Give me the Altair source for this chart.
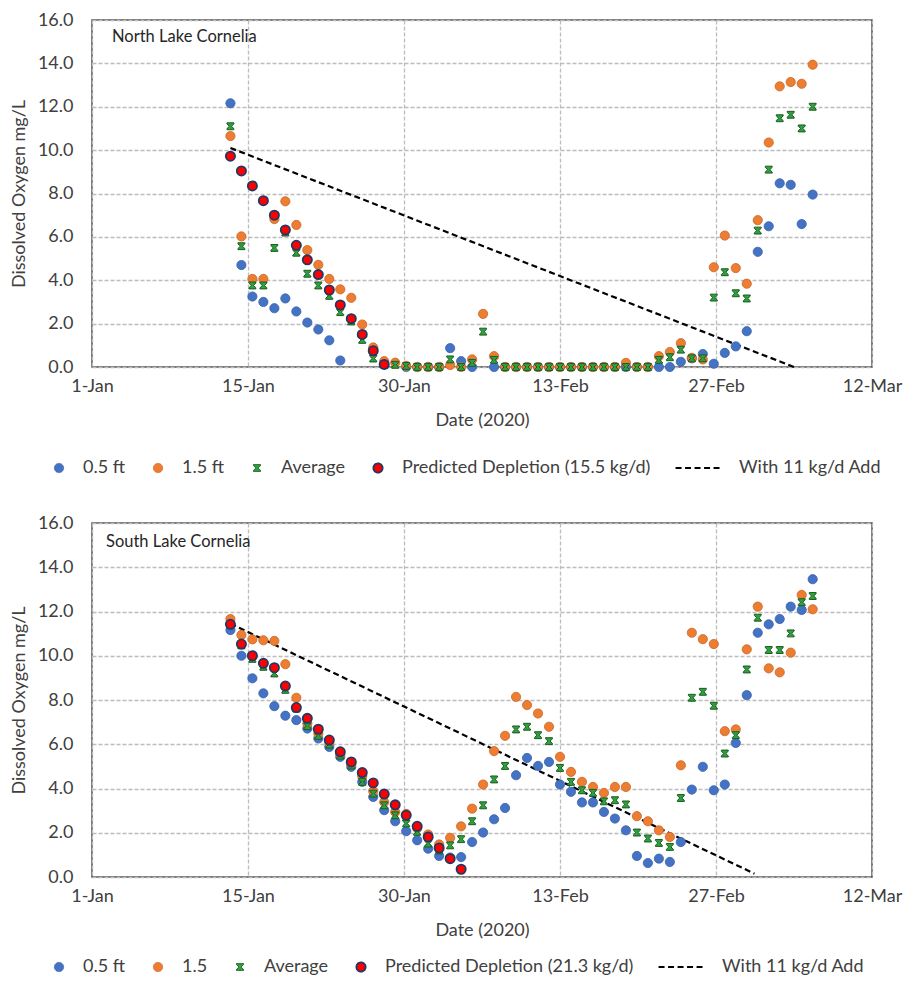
import altair as alt
import pandas as pd

# ---------------- data ----------------
FIRST_DAY = 12.6          # first daily sample, days after 1-Jan-2020
AXIS_END = 71             # 12-Mar, days after 1-Jan-2020
tick_labels = ["1-Jan", "15-Jan", "30-Jan", "13-Feb", "27-Feb", "12-Mar"]
y_ticks = [0, 2, 4, 6, 8, 10, 12, 14, 16]

north_names = ["0.5 ft", "1.5 ft", "Average", "Predicted Depletion (15.5 kg/d)", "With 11 kg/d Add"]
south_names = ["0.5 ft", "1.5", "Average", "Predicted Depletion (21.3 kg/d)", "With 11 kg/d Add"]

n_blue = [12.16, 4.70, 3.25, 3.00, 2.71, 3.16, 2.56, 2.05, 1.73, 1.23,
          0.30, None, None, None, None, None, 0.0, 0.0, 0.0, 0.0,
          0.87, 0.27, 0.0, None, 0.0, 0.0, 0.0, 0.0, 0.0, 0.0,
          0.0, 0.0, 0.0, 0.0, 0.0, 0.0, 0.0, 0.0, 0.0, 0.0,
          0.0, 0.24, 0.40, 0.60, 0.15, 0.65, 0.95, 1.65, 5.31, 6.49,
          8.47, 8.40, 6.59, 7.95]
n_orange = [10.65, 6.02, 4.06, 4.06, 6.82, 7.64, 6.55, 5.39, 4.71, 4.06,
            3.58, 3.19, 1.96, 0.90, 0.27, 0.20, 0.05, 0.0, 0.0, 0.0,
            0.09, 0.0, 0.35, 2.45, 0.50, 0.0, 0.0, 0.0, 0.0, 0.0,
            0.0, 0.0, 0.0, 0.0, 0.0, 0.0, 0.19, 0.0, 0.0, 0.50,
            0.69, 1.10, 0.42, 0.35, 4.60, 6.06, 4.56, 3.84, 6.77, 10.35,
            12.94, 13.14, 13.06, 13.94]
n_avg = [11.10, 5.57, 3.76, 3.76, 5.49, 6.20, 5.27, 4.30, 3.76, 3.28,
         2.53, 2.10, 1.25, 0.39, 0.10, 0.10, 0.05, 0.0, 0.0, 0.0,
         0.35, 0.0, 0.19, 1.63, 0.33, 0.0, 0.0, 0.0, 0.0, 0.0,
         0.0, 0.0, 0.0, 0.0, 0.0, 0.0, 0.0, 0.0, 0.0, 0.33,
         0.45, 0.80, 0.40, 0.40, 3.20, 4.37, 3.40, 3.16, 6.29, 9.10,
         11.47, 11.63, 11.00, 12.00]
n_pred = [9.72, 9.04, 8.35, 7.67, 7.00, 6.32, 5.61, 4.94, 4.26, 3.55,
          2.86, 2.23, 1.50, 0.75, 0.12]
n_add_days = [12.6, 63.9]
n_add_vals = [10.1, 0.0]

s_blue = [11.16, 10.00, 8.98, 8.30, 7.72, 7.29, 7.09, 6.71, 6.26, 5.88,
          5.43, 4.98, 4.30, 3.62, 3.02, 2.52, 2.07, 1.66, 1.28, 0.95,
          0.88, 0.90, 1.58, 2.01, 2.61, 3.12, 4.60, 5.38, 5.02, 5.20,
          4.18, 3.85, 3.37, 3.37, 2.94, 2.64, 2.11, 0.95, 0.63, 0.83,
          0.68, 1.58, 3.95, 4.98, 3.92, 4.18, 6.06, 8.22, 11.04, 11.42,
          11.66, 12.22, 12.07, 13.46]
s_orange = [11.66, 10.94, 10.74, 10.70, 10.67, 9.62, 8.10, 6.94, 6.49, 6.08,
            5.55, 5.10, 4.55, 3.88, 3.39, 2.94, 2.85, 2.20, 1.92, 1.47,
            1.77, 2.29, 3.09, 4.18, 5.69, 6.38, 8.14, 7.77, 7.39, 6.79,
            5.43, 4.75, 4.30, 4.07, 3.80, 4.07, 4.07, 2.75, 2.52, 2.11,
            1.81, 5.05, 11.04, 10.75, 10.53, 6.59, 6.67, 10.29, 12.22, 9.43,
            9.25, 10.14, 12.75, 12.10]
s_avg = [11.41, 10.47, 9.86, 9.50, 9.20, 8.46, 7.61, 6.82, 6.38, 5.98,
         5.49, 5.04, 4.30, 3.77, 3.24, 2.79, 2.42, 2.04, 1.51, 1.20,
         1.43, 1.71, 2.52, 3.24, 4.41, 5.02, 6.67, 6.79, 6.41, 6.14,
         4.93, 4.30, 3.92, 3.80, 3.42, 3.47, 3.28, 2.01, 1.74, 1.54,
         1.36, 3.57, 8.10, 8.37, 7.74, 5.58, 6.41, 9.38, 11.72, 10.26,
         10.26, 11.01, 12.42, 12.70]
s_pred = [11.42, 10.53, 10.00, 9.66, 9.46, 8.63, 7.66, 7.17, 6.68, 6.19,
          5.66, 5.20, 4.72, 4.25, 3.75, 3.26, 2.79, 2.29, 1.81, 1.31,
          0.83, 0.35]
s_add_days = [12.6, 60.3]
s_add_vals = [11.45, 0.15]

# ---------------- styling ----------------
FONT = "Lato"
TXT = "#404040"
fills = ["#4472C4", "#ED7D31", "#2F9E44", "#FF0000", "transparent"]
strokes = ["#3A62AA", "#C8662A", "#1A5E1A", "#1F3864", "#000000"]
XMARK = ("M-0.75,-0.75L0.75,-0.75L0.75,-0.5L0.22,0L0.75,0.5L0.75,0.75"
         "L-0.75,0.75L-0.75,0.5L-0.22,0L-0.75,-0.5Z")
shapes = ["circle", "circle", XMARK, "circle", "stroke"]
sizes = [85, 85, 85, 85, 2200]
widths = [0.8, 0.8, 1.0, 1.8, 2.2]
dashes = [[1, 0], [1, 0], [1, 0], [1, 0], [6, 3.5]]

n_ticks = len(tick_labels)
tick_days = [AXIS_END * k / (n_ticks - 1) for k in range(n_ticks)]
label_expr = ("[" + ",".join("'%s'" % t for t in tick_labels) + "]"
              + "[round(datum.value / %f)]" % (AXIS_END / (n_ticks - 1)))


def panel(title, names, blue, orange, avg, pred, add_days, add_vals,
          height, text_x, text_y, leg_x, leg_y):
    rows = []
    for name, vals in zip(names[:4], [blue, orange, avg, pred]):
        for i, v in enumerate(vals):
            if v is not None:
                rows.append({"day": FIRST_DAY + i, "value": v, "series": name})
    pts = pd.DataFrame(rows)
    line_df = pd.DataFrame({"day": add_days, "value": add_vals, "series": names[4]})

    leg = alt.Legend(title=None, orient="none", legendX=leg_x, legendY=leg_y,
                     direction="horizontal")
    xenc = alt.X("day:Q", scale=alt.Scale(domain=[0, AXIS_END], nice=False, zero=False),
                 axis=alt.Axis(values=tick_days, labelExpr=label_expr, title="Date (2020)",
                               labelFlush=False))
    yenc = alt.Y("value:Q", scale=alt.Scale(domain=[0, 16], nice=False),
                 axis=alt.Axis(values=y_ticks, format=".1f", title="Dissolved Oxygen mg/L"))
    fill = alt.Fill("series:N", scale=alt.Scale(domain=names, range=fills), legend=leg)
    stroke = alt.Stroke("series:N", scale=alt.Scale(domain=names, range=strokes), legend=leg)
    shape = alt.Shape("series:N", scale=alt.Scale(domain=names, range=shapes), legend=leg)
    size = alt.Size("series:N", scale=alt.Scale(type="ordinal", domain=names, range=sizes), legend=leg)
    sw = alt.StrokeWidth("series:N", scale=alt.Scale(type="ordinal", domain=names, range=widths), legend=leg)
    dash = alt.StrokeDash("series:N", scale=alt.Scale(domain=names, range=dashes), legend=leg)

    points = alt.Chart(pts).mark_point(filled=True, opacity=1).encode(
        x=xenc, y=yenc, fill=fill, stroke=stroke, shape=shape, size=size, strokeWidth=sw,
        order=alt.Order("order:Q"),
    ).transform_calculate(order="indexof(%s, datum.series)" % str(names))

    line = alt.Chart(line_df).mark_line().encode(
        x=xenc, y=yenc, stroke=stroke, strokeDash=dash, strokeWidth=sw,
    )

    label = alt.Chart(pd.DataFrame({"t": [title]})).mark_text(
        align="left", baseline="middle", font=FONT, fontSize=16.5, color="#262626"
    ).encode(x=alt.value(text_x), y=alt.value(text_y), text="t:N")

    return alt.layer(line, points, label).properties(width=780, height=height)


top = panel("North Lake Cornelia", north_names, n_blue, n_orange, n_avg, n_pred,
            n_add_days, n_add_vals, 347, 20, 17, -42, 439)
bottom = panel("South Lake Cornelia", south_names, s_blue, s_orange, s_avg, s_pred,
               s_add_days, s_add_vals, 354, 14, 19, -42, 435)

chans = dict(x="independent", y="independent", fill="independent", stroke="independent",
             shape="independent", size="independent", strokeWidth="independent",
             strokeDash="independent")

chart = (
    alt.vconcat(top, bottom, spacing=35)
    .resolve_scale(**chans)
    .resolve_legend(fill="independent", stroke="independent", shape="independent",
                    size="independent", strokeWidth="independent", strokeDash="independent")
    .properties(padding={"left": 1, "top": 2, "right": 0, "bottom": 0})
    .configure(font=FONT)
    .configure_view(stroke="#505050", strokeWidth=1.5)
    .configure_axis(labelFont=FONT, labelFontSize=18, labelColor=TXT, titleFont=FONT,
                    titleFontSize=18, titleColor=TXT, titleFontWeight="normal",
                    gridColor="#BDBDBD", gridDash=[4, 2], gridWidth=1.3,
                    domain=False, ticks=False)
    .configure_axisY(labelPadding=19, titlePadding=9)
    .configure_axisX(labelPadding=10, titlePadding=16)
    .configure_legend(labelFont=FONT, labelFontSize=18, labelColor=TXT, labelOffset=15,
                      columnPadding=23, labelLimit=600, clipHeight=18)
)

chart.save("out.html", embed_options={"renderer": "svg", "actions": False})
